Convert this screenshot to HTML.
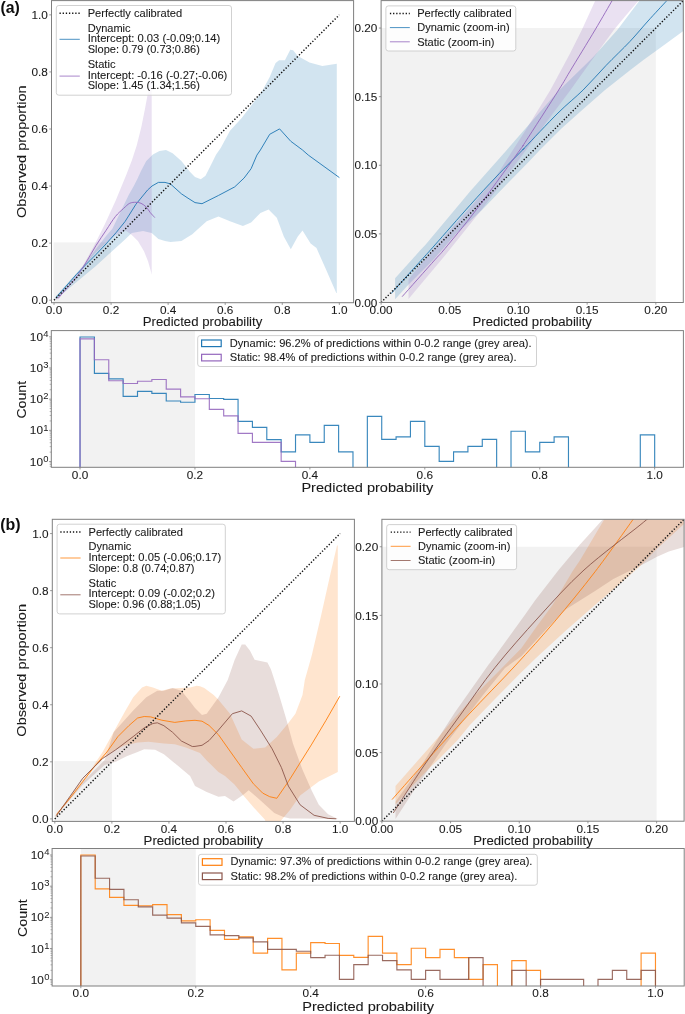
<!DOCTYPE html><html><head><meta charset="utf-8"><style>html,body{margin:0;padding:0;background:#fff;overflow:hidden} svg{display:block;will-change:transform;filter:blur(0.3px)} text{font-family:'Liberation Sans',sans-serif}</style></head><body>
<svg width="685" height="1014" viewBox="0 0 685 1014">
<rect width="685" height="1014" fill="#ffffff"/>
<clipPath id="ca1"><rect x="51.50" y="0.60" width="302.10" height="302.10"/></clipPath>
<clipPath id="ca2"><rect x="381.10" y="0.60" width="302.20" height="301.90"/></clipPath>
<clipPath id="ca3"><rect x="51.30" y="330.60" width="632.10" height="136.70"/></clipPath>
<rect x="53.51" y="242.42" width="57.56" height="60.28" fill="#f2f2f2"/>
<rect x="381.10" y="28.05" width="274.73" height="274.45" fill="#f2f2f2"/>
<rect x="80.03" y="330.60" width="114.93" height="136.70" fill="#f2f2f2"/>
<g clip-path="url(#ca1)">
<polygon points="55.30,299.20 56.00,296.00 85.70,263.00 95.90,249.00 106.10,236.00 112.40,228.80 120.00,213.00 128.70,195.10 133.80,186.00 137.60,178.50 141.00,171.00 146.30,161.00 152.90,154.40 159.50,151.10 166.00,150.00 172.60,153.30 181.40,161.00 190.10,171.90 195.00,176.90 200.80,179.20 205.50,175.70 210.20,166.40 216.00,154.70 220.70,148.00 230.00,130.80 241.70,118.00 253.40,102.80 262.70,89.90 269.70,77.10 275.60,63.10 279.10,60.30 284.90,60.30 290.30,49.80 293.10,50.20 297.80,56.10 309.50,62.60 322.30,65.90 330.50,64.70 336.80,63.80 336.80,293.00 336.30,293.00 325.80,269.10 316.50,248.10 310.60,243.40 302.50,230.60 297.80,236.40 290.80,249.30 283.80,236.40 276.80,217.70 268.60,209.60 260.40,213.10 251.10,222.40 242.90,225.90 230.00,221.20 218.40,216.60 206.70,221.20 195.00,231.80 192.30,234.30 181.40,240.90 170.40,242.00 165.00,241.00 158.40,239.00 151.70,232.90 143.00,230.90 131.80,232.90 125.00,239.50 111.20,252.00 95.90,266.00 75.40,283.00 56.00,299.20" fill="#1f77b4" fill-opacity="0.2" stroke="none"/>
<polygon points="55.50,299.80 56.60,297.80 71.90,281.40 82.80,266.00 93.80,246.30 104.70,224.40 115.70,200.40 126.60,174.10 132.00,160.00 136.70,145.40 141.40,126.70 144.90,109.20 147.50,95.20 149.70,84.00 150.50,79.60 151.70,79.60 151.70,274.80 151.00,271.70 148.10,261.50 144.00,251.30 137.90,241.10 131.80,235.00 125.70,230.50 115.00,235.50 105.00,244.00 95.00,253.00 82.80,268.00 70.00,282.50 58.80,298.90" fill="#9467bd" fill-opacity="0.2" stroke="none"/>
<polyline points="56.00,297.60 76.30,274.60 85.70,264.80 95.90,254.60 106.10,243.90 116.30,232.40 125.00,221.60 135.90,204.30 147.60,190.00 152.00,186.00 158.40,182.40 165.00,182.40 170.40,183.90 181.40,193.80 188.00,198.20 195.00,202.60 202.00,203.70 218.40,195.50 234.70,186.90 244.10,178.00 251.10,168.70 256.90,155.10 260.40,150.00 269.70,134.30 279.60,128.90 290.80,141.30 302.50,150.00 308.30,155.10 339.40,177.60" fill="none" stroke="#1f77b4" stroke-width="1.0" stroke-linejoin="round" stroke-opacity="0.9"/>
<path d="M58.10,298.30 C60.98,294.98 70.80,284.28 75.40,278.40 C80.00,272.52 82.28,268.45 85.70,263.00 C89.12,257.55 92.50,251.15 95.90,245.70 C99.30,240.25 102.85,235.17 106.10,230.30 C109.35,225.43 112.48,220.15 115.40,216.50 C118.32,212.85 121.22,210.60 123.60,208.40 C125.98,206.20 127.65,204.32 129.70,203.30 C131.75,202.28 134.02,202.30 135.90,202.30 C137.78,202.30 139.30,202.53 141.00,203.30 C142.70,204.07 144.57,205.37 146.10,206.90 C147.63,208.43 148.75,210.72 150.20,212.50 C151.65,214.28 154.03,216.75 154.80,217.60" fill="none" stroke="#9467bd" stroke-width="1.0" stroke-opacity="0.9" stroke-linejoin="round"/>
</g>
<g clip-path="url(#ca2)">
<polygon points="395.10,299.30 395.10,278.30 420.00,250.60 425.30,245.00 462.90,200.00 470.00,191.50 505.90,151.00 557.40,92.00 592.80,57.50 617.30,30.00 639.00,1.30 641.00,-1.00 700.00,-1.00 700.00,19.00 685.00,29.80 660.00,48.00 643.40,60.00 630.00,70.30 605.00,90.00 585.00,107.50 562.00,128.00 539.90,150.00 530.00,160.50 506.00,185.00 482.00,210.00 456.00,234.00 433.10,260.00 408.60,284.40" fill="#1f77b4" fill-opacity="0.2" stroke="none"/>
<polygon points="408.50,298.90 408.50,279.20 434.90,247.00 470.00,207.80 496.30,176.30 512.90,150.00 525.00,131.20 550.40,90.00 570.00,53.60 581.80,30.00 596.00,-1.00 639.00,-1.00 638.00,1.30 625.00,16.60 613.80,30.00 590.10,62.40 570.50,90.00 548.00,120.00 526.00,150.00 498.00,188.00 481.40,210.00 445.00,255.50" fill="#9467bd" fill-opacity="0.2" stroke="none"/>
<path d="M391.10,293.60 C396.35,287.78 415.30,266.80 422.60,258.70 C429.90,250.60 427.00,253.92 434.90,245.00 C442.80,236.08 459.82,216.53 470.00,205.20 C480.18,193.87 487.25,186.20 496.00,177.00 C504.75,167.80 517.67,154.93 522.50,150.00 C527.33,145.07 519.08,153.57 525.00,147.40 C530.92,141.23 548.32,122.57 558.00,113.00 C567.68,103.43 575.10,97.92 583.10,90.00 C591.10,82.08 598.18,73.60 606.00,65.50 C613.82,57.40 623.00,48.82 630.00,41.40 C637.00,33.98 641.97,27.68 648.00,21.00 C654.03,14.32 662.95,4.80 666.20,1.30 C669.45,-2.20 667.28,0.22 667.50,0.00" fill="none" stroke="#1f77b4" stroke-width="1.0" stroke-opacity="0.9" stroke-linejoin="round"/>
<path d="M402.10,296.70 C407.57,290.55 427.75,267.83 434.90,259.80 C442.05,251.77 438.13,256.80 445.00,248.50 C451.87,240.20 463.62,226.42 476.10,210.00 C488.58,193.58 511.75,161.25 519.90,150.00 C528.05,138.75 518.53,152.50 525.00,142.50 C531.47,132.50 551.20,101.88 558.70,90.00 C566.20,78.12 563.95,81.20 570.00,71.20 C576.05,61.20 587.92,41.87 595.00,30.00 C602.08,18.13 609.58,5.00 612.50,0.00" fill="none" stroke="#9467bd" stroke-width="1.0" stroke-opacity="0.9" stroke-linejoin="round"/>
</g>
<line x1="54.01" y1="300.19" x2="339.33" y2="14.87" stroke="#111" stroke-width="1.45" stroke-dasharray="1.3 1.85"/>
<line x1="381.10" y1="302.50" x2="683.30" y2="0.60" stroke="#111" stroke-width="1.45" stroke-dasharray="1.3 1.85" clip-path="url(#ca2)"/>
<polyline points="80.03,469.30 80.03,337.00 94.40,337.00 94.40,373.40 108.76,373.40 108.76,378.80 123.13,378.80 123.13,396.30 137.50,396.30 137.50,391.40 151.86,391.40 151.86,393.30 166.23,393.30 166.23,401.00 180.59,401.00 180.59,402.20 194.96,402.20 194.96,394.50 209.32,394.50 209.32,398.50 223.69,398.50 223.69,399.40 238.06,399.40 238.06,421.30 252.42,421.30 252.42,427.40 266.79,427.40 266.79,439.60 281.15,439.60 281.15,451.90 295.52,451.90 295.52,434.90 309.89,434.90 309.89,442.40 324.25,442.40 324.25,425.30 338.62,425.30 338.62,451.90 352.98,451.90 352.98,469.30 367.35,469.30 367.35,416.40 381.72,416.40 381.72,439.30 396.08,439.30 396.08,436.80 410.45,436.80 410.45,421.30 424.81,421.30 424.81,446.30 439.18,446.30 439.18,461.30 453.55,461.30 453.55,451.90 467.91,451.90 467.91,446.30 482.28,446.30 482.28,439.30 496.64,439.30 496.64,469.30 511.01,469.30 511.01,431.20 525.38,431.20 525.38,451.90 539.74,451.90 539.74,442.40 554.11,442.40 554.11,436.80 568.47,436.80 568.47,469.30 582.84,469.30 582.84,469.30 597.20,469.30 597.20,469.30 611.57,469.30 611.57,469.30 625.94,469.30 625.94,469.30 640.30,469.30 640.30,434.90 654.67,434.90 654.67,469.30" fill="none" stroke="#1f77b4" stroke-width="1.15" stroke-opacity="0.88" stroke-linejoin="miter" clip-path="url(#ca3)"/>
<polyline points="80.03,469.30 80.03,338.90 94.40,338.90 94.40,359.70 108.76,359.70 108.76,380.70 123.13,380.70 123.13,383.50 137.50,383.50 137.50,381.20 151.86,381.20 151.86,379.50 166.23,379.50 166.23,389.10 180.59,389.10 180.59,396.80 194.96,396.80 194.96,398.70 209.32,398.70 209.32,409.30 223.69,409.30 223.69,415.80 238.06,415.80 238.06,433.30 252.42,433.30 252.42,442.40 266.79,442.40 266.79,442.40 281.15,442.40 281.15,461.30 295.52,461.30 295.52,469.30 309.89,469.30 309.89,469.30 324.25,469.30 324.25,469.30 338.62,469.30 338.62,469.30 352.98,469.30 352.98,469.30 367.35,469.30 367.35,469.30 381.72,469.30 381.72,469.30 396.08,469.30 396.08,469.30 410.45,469.30 410.45,469.30 424.81,469.30 424.81,469.30 439.18,469.30 439.18,469.30 453.55,469.30 453.55,469.30 467.91,469.30 467.91,469.30 482.28,469.30 482.28,469.30 496.64,469.30 496.64,469.30 511.01,469.30 511.01,469.30 525.38,469.30 525.38,469.30 539.74,469.30 539.74,469.30 554.11,469.30 554.11,469.30 568.47,469.30 568.47,469.30 582.84,469.30 582.84,469.30 597.20,469.30 597.20,469.30 611.57,469.30 611.57,469.30 625.94,469.30 625.94,469.30 640.30,469.30 640.30,469.30 654.67,469.30 654.67,469.30" fill="none" stroke="#9467bd" stroke-width="1.15" stroke-opacity="0.88" stroke-linejoin="miter" clip-path="url(#ca3)"/>
<rect x="51.50" y="0.60" width="302.10" height="302.10" fill="none" stroke="#7f7f7f" stroke-width="1"/>
<rect x="381.10" y="0.60" width="302.20" height="301.90" fill="none" stroke="#7f7f7f" stroke-width="1"/>
<rect x="51.30" y="330.60" width="632.10" height="136.70" fill="none" stroke="#7f7f7f" stroke-width="1"/>
<line x1="54.01" y1="302.70" x2="54.01" y2="304.90" stroke="#7f7f7f" stroke-width="0.8"/>
<text x="54.01" y="314.10" font-size="10.76" text-anchor="middle" fill="#1a1a1a" stroke="#1a1a1a" stroke-width="0.08" textLength="16.38" lengthAdjust="spacingAndGlyphs">0.0</text>
<line x1="111.08" y1="302.70" x2="111.08" y2="304.90" stroke="#7f7f7f" stroke-width="0.8"/>
<text x="111.08" y="314.10" font-size="10.76" text-anchor="middle" fill="#1a1a1a" stroke="#1a1a1a" stroke-width="0.08" textLength="16.38" lengthAdjust="spacingAndGlyphs">0.2</text>
<line x1="168.14" y1="302.70" x2="168.14" y2="304.90" stroke="#7f7f7f" stroke-width="0.8"/>
<text x="168.14" y="314.10" font-size="10.76" text-anchor="middle" fill="#1a1a1a" stroke="#1a1a1a" stroke-width="0.08" textLength="16.38" lengthAdjust="spacingAndGlyphs">0.4</text>
<line x1="225.20" y1="302.70" x2="225.20" y2="304.90" stroke="#7f7f7f" stroke-width="0.8"/>
<text x="225.20" y="314.10" font-size="10.76" text-anchor="middle" fill="#1a1a1a" stroke="#1a1a1a" stroke-width="0.08" textLength="16.38" lengthAdjust="spacingAndGlyphs">0.6</text>
<line x1="282.27" y1="302.70" x2="282.27" y2="304.90" stroke="#7f7f7f" stroke-width="0.8"/>
<text x="282.27" y="314.10" font-size="10.76" text-anchor="middle" fill="#1a1a1a" stroke="#1a1a1a" stroke-width="0.08" textLength="16.38" lengthAdjust="spacingAndGlyphs">0.8</text>
<line x1="339.33" y1="302.70" x2="339.33" y2="304.90" stroke="#7f7f7f" stroke-width="0.8"/>
<text x="339.33" y="314.10" font-size="10.76" text-anchor="middle" fill="#1a1a1a" stroke="#1a1a1a" stroke-width="0.08" textLength="16.38" lengthAdjust="spacingAndGlyphs">1.0</text>
<line x1="49.30" y1="300.19" x2="51.50" y2="300.19" stroke="#7f7f7f" stroke-width="0.8"/>
<text x="47.80" y="304.39" font-size="10.76" text-anchor="end" fill="#1a1a1a" stroke="#1a1a1a" stroke-width="0.08" textLength="16.38" lengthAdjust="spacingAndGlyphs">0.0</text>
<line x1="49.30" y1="243.12" x2="51.50" y2="243.12" stroke="#7f7f7f" stroke-width="0.8"/>
<text x="47.80" y="247.32" font-size="10.76" text-anchor="end" fill="#1a1a1a" stroke="#1a1a1a" stroke-width="0.08" textLength="16.38" lengthAdjust="spacingAndGlyphs">0.2</text>
<line x1="49.30" y1="186.06" x2="51.50" y2="186.06" stroke="#7f7f7f" stroke-width="0.8"/>
<text x="47.80" y="190.26" font-size="10.76" text-anchor="end" fill="#1a1a1a" stroke="#1a1a1a" stroke-width="0.08" textLength="16.38" lengthAdjust="spacingAndGlyphs">0.4</text>
<line x1="49.30" y1="129.00" x2="51.50" y2="129.00" stroke="#7f7f7f" stroke-width="0.8"/>
<text x="47.80" y="133.20" font-size="10.76" text-anchor="end" fill="#1a1a1a" stroke="#1a1a1a" stroke-width="0.08" textLength="16.38" lengthAdjust="spacingAndGlyphs">0.6</text>
<line x1="49.30" y1="71.93" x2="51.50" y2="71.93" stroke="#7f7f7f" stroke-width="0.8"/>
<text x="47.80" y="76.13" font-size="10.76" text-anchor="end" fill="#1a1a1a" stroke="#1a1a1a" stroke-width="0.08" textLength="16.38" lengthAdjust="spacingAndGlyphs">0.8</text>
<line x1="49.30" y1="14.87" x2="51.50" y2="14.87" stroke="#7f7f7f" stroke-width="0.8"/>
<text x="47.80" y="19.07" font-size="10.76" text-anchor="end" fill="#1a1a1a" stroke="#1a1a1a" stroke-width="0.08" textLength="16.38" lengthAdjust="spacingAndGlyphs">1.0</text>
<line x1="381.10" y1="302.50" x2="381.10" y2="304.70" stroke="#7f7f7f" stroke-width="0.8"/>
<text x="381.10" y="313.90" font-size="10.76" text-anchor="middle" fill="#1a1a1a" stroke="#1a1a1a" stroke-width="0.08" textLength="22.93" lengthAdjust="spacingAndGlyphs">0.00</text>
<line x1="449.78" y1="302.50" x2="449.78" y2="304.70" stroke="#7f7f7f" stroke-width="0.8"/>
<text x="449.78" y="313.90" font-size="10.76" text-anchor="middle" fill="#1a1a1a" stroke="#1a1a1a" stroke-width="0.08" textLength="22.93" lengthAdjust="spacingAndGlyphs">0.05</text>
<line x1="518.46" y1="302.50" x2="518.46" y2="304.70" stroke="#7f7f7f" stroke-width="0.8"/>
<text x="518.46" y="313.90" font-size="10.76" text-anchor="middle" fill="#1a1a1a" stroke="#1a1a1a" stroke-width="0.08" textLength="22.93" lengthAdjust="spacingAndGlyphs">0.10</text>
<line x1="587.15" y1="302.50" x2="587.15" y2="304.70" stroke="#7f7f7f" stroke-width="0.8"/>
<text x="587.15" y="313.90" font-size="10.76" text-anchor="middle" fill="#1a1a1a" stroke="#1a1a1a" stroke-width="0.08" textLength="22.93" lengthAdjust="spacingAndGlyphs">0.15</text>
<line x1="655.83" y1="302.50" x2="655.83" y2="304.70" stroke="#7f7f7f" stroke-width="0.8"/>
<text x="655.83" y="313.90" font-size="10.76" text-anchor="middle" fill="#1a1a1a" stroke="#1a1a1a" stroke-width="0.08" textLength="22.93" lengthAdjust="spacingAndGlyphs">0.20</text>
<line x1="378.90" y1="302.50" x2="381.10" y2="302.50" stroke="#7f7f7f" stroke-width="0.8"/>
<text x="377.40" y="306.70" font-size="10.76" text-anchor="end" fill="#1a1a1a" stroke="#1a1a1a" stroke-width="0.08" textLength="22.93" lengthAdjust="spacingAndGlyphs">0.00</text>
<line x1="378.90" y1="233.89" x2="381.10" y2="233.89" stroke="#7f7f7f" stroke-width="0.8"/>
<text x="377.40" y="238.09" font-size="10.76" text-anchor="end" fill="#1a1a1a" stroke="#1a1a1a" stroke-width="0.08" textLength="22.93" lengthAdjust="spacingAndGlyphs">0.05</text>
<line x1="378.90" y1="165.27" x2="381.10" y2="165.27" stroke="#7f7f7f" stroke-width="0.8"/>
<text x="377.40" y="169.47" font-size="10.76" text-anchor="end" fill="#1a1a1a" stroke="#1a1a1a" stroke-width="0.08" textLength="22.93" lengthAdjust="spacingAndGlyphs">0.10</text>
<line x1="378.90" y1="96.66" x2="381.10" y2="96.66" stroke="#7f7f7f" stroke-width="0.8"/>
<text x="377.40" y="100.86" font-size="10.76" text-anchor="end" fill="#1a1a1a" stroke="#1a1a1a" stroke-width="0.08" textLength="22.93" lengthAdjust="spacingAndGlyphs">0.15</text>
<line x1="378.90" y1="28.05" x2="381.10" y2="28.05" stroke="#7f7f7f" stroke-width="0.8"/>
<text x="377.40" y="32.25" font-size="10.76" text-anchor="end" fill="#1a1a1a" stroke="#1a1a1a" stroke-width="0.08" textLength="22.93" lengthAdjust="spacingAndGlyphs">0.20</text>
<line x1="80.03" y1="467.30" x2="80.03" y2="469.50" stroke="#7f7f7f" stroke-width="0.8"/>
<text x="80.03" y="478.70" font-size="10.76" text-anchor="middle" fill="#1a1a1a" stroke="#1a1a1a" stroke-width="0.08" textLength="16.38" lengthAdjust="spacingAndGlyphs">0.0</text>
<line x1="194.96" y1="467.30" x2="194.96" y2="469.50" stroke="#7f7f7f" stroke-width="0.8"/>
<text x="194.96" y="478.70" font-size="10.76" text-anchor="middle" fill="#1a1a1a" stroke="#1a1a1a" stroke-width="0.08" textLength="16.38" lengthAdjust="spacingAndGlyphs">0.2</text>
<line x1="309.89" y1="467.30" x2="309.89" y2="469.50" stroke="#7f7f7f" stroke-width="0.8"/>
<text x="309.89" y="478.70" font-size="10.76" text-anchor="middle" fill="#1a1a1a" stroke="#1a1a1a" stroke-width="0.08" textLength="16.38" lengthAdjust="spacingAndGlyphs">0.4</text>
<line x1="424.81" y1="467.30" x2="424.81" y2="469.50" stroke="#7f7f7f" stroke-width="0.8"/>
<text x="424.81" y="478.70" font-size="10.76" text-anchor="middle" fill="#1a1a1a" stroke="#1a1a1a" stroke-width="0.08" textLength="16.38" lengthAdjust="spacingAndGlyphs">0.6</text>
<line x1="539.74" y1="467.30" x2="539.74" y2="469.50" stroke="#7f7f7f" stroke-width="0.8"/>
<text x="539.74" y="478.70" font-size="10.76" text-anchor="middle" fill="#1a1a1a" stroke="#1a1a1a" stroke-width="0.08" textLength="16.38" lengthAdjust="spacingAndGlyphs">0.8</text>
<line x1="654.67" y1="467.30" x2="654.67" y2="469.50" stroke="#7f7f7f" stroke-width="0.8"/>
<text x="654.67" y="478.70" font-size="10.76" text-anchor="middle" fill="#1a1a1a" stroke="#1a1a1a" stroke-width="0.08" textLength="16.38" lengthAdjust="spacingAndGlyphs">1.0</text>
<line x1="49.70" y1="466.33" x2="51.30" y2="466.33" stroke="#7f7f7f" stroke-width="0.6"/>
<line x1="49.70" y1="464.52" x2="51.30" y2="464.52" stroke="#7f7f7f" stroke-width="0.6"/>
<line x1="49.70" y1="462.93" x2="51.30" y2="462.93" stroke="#7f7f7f" stroke-width="0.6"/>
<line x1="49.70" y1="452.12" x2="51.30" y2="452.12" stroke="#7f7f7f" stroke-width="0.6"/>
<line x1="49.70" y1="446.63" x2="51.30" y2="446.63" stroke="#7f7f7f" stroke-width="0.6"/>
<line x1="49.70" y1="442.73" x2="51.30" y2="442.73" stroke="#7f7f7f" stroke-width="0.6"/>
<line x1="49.70" y1="439.71" x2="51.30" y2="439.71" stroke="#7f7f7f" stroke-width="0.6"/>
<line x1="49.70" y1="437.25" x2="51.30" y2="437.25" stroke="#7f7f7f" stroke-width="0.6"/>
<line x1="49.70" y1="435.16" x2="51.30" y2="435.16" stroke="#7f7f7f" stroke-width="0.6"/>
<line x1="49.70" y1="433.35" x2="51.30" y2="433.35" stroke="#7f7f7f" stroke-width="0.6"/>
<line x1="49.70" y1="431.76" x2="51.30" y2="431.76" stroke="#7f7f7f" stroke-width="0.6"/>
<line x1="49.70" y1="420.95" x2="51.30" y2="420.95" stroke="#7f7f7f" stroke-width="0.6"/>
<line x1="49.70" y1="415.46" x2="51.30" y2="415.46" stroke="#7f7f7f" stroke-width="0.6"/>
<line x1="49.70" y1="411.56" x2="51.30" y2="411.56" stroke="#7f7f7f" stroke-width="0.6"/>
<line x1="49.70" y1="408.54" x2="51.30" y2="408.54" stroke="#7f7f7f" stroke-width="0.6"/>
<line x1="49.70" y1="406.08" x2="51.30" y2="406.08" stroke="#7f7f7f" stroke-width="0.6"/>
<line x1="49.70" y1="403.99" x2="51.30" y2="403.99" stroke="#7f7f7f" stroke-width="0.6"/>
<line x1="49.70" y1="402.18" x2="51.30" y2="402.18" stroke="#7f7f7f" stroke-width="0.6"/>
<line x1="49.70" y1="400.59" x2="51.30" y2="400.59" stroke="#7f7f7f" stroke-width="0.6"/>
<line x1="49.70" y1="389.78" x2="51.30" y2="389.78" stroke="#7f7f7f" stroke-width="0.6"/>
<line x1="49.70" y1="384.29" x2="51.30" y2="384.29" stroke="#7f7f7f" stroke-width="0.6"/>
<line x1="49.70" y1="380.39" x2="51.30" y2="380.39" stroke="#7f7f7f" stroke-width="0.6"/>
<line x1="49.70" y1="377.37" x2="51.30" y2="377.37" stroke="#7f7f7f" stroke-width="0.6"/>
<line x1="49.70" y1="374.91" x2="51.30" y2="374.91" stroke="#7f7f7f" stroke-width="0.6"/>
<line x1="49.70" y1="372.82" x2="51.30" y2="372.82" stroke="#7f7f7f" stroke-width="0.6"/>
<line x1="49.70" y1="371.01" x2="51.30" y2="371.01" stroke="#7f7f7f" stroke-width="0.6"/>
<line x1="49.70" y1="369.42" x2="51.30" y2="369.42" stroke="#7f7f7f" stroke-width="0.6"/>
<line x1="49.70" y1="358.61" x2="51.30" y2="358.61" stroke="#7f7f7f" stroke-width="0.6"/>
<line x1="49.70" y1="353.12" x2="51.30" y2="353.12" stroke="#7f7f7f" stroke-width="0.6"/>
<line x1="49.70" y1="349.22" x2="51.30" y2="349.22" stroke="#7f7f7f" stroke-width="0.6"/>
<line x1="49.70" y1="346.20" x2="51.30" y2="346.20" stroke="#7f7f7f" stroke-width="0.6"/>
<line x1="49.70" y1="343.74" x2="51.30" y2="343.74" stroke="#7f7f7f" stroke-width="0.6"/>
<line x1="49.70" y1="341.65" x2="51.30" y2="341.65" stroke="#7f7f7f" stroke-width="0.6"/>
<line x1="49.70" y1="339.84" x2="51.30" y2="339.84" stroke="#7f7f7f" stroke-width="0.6"/>
<line x1="49.70" y1="338.25" x2="51.30" y2="338.25" stroke="#7f7f7f" stroke-width="0.6"/>
<line x1="49.10" y1="461.50" x2="51.30" y2="461.50" stroke="#7f7f7f" stroke-width="0.8"/>
<text x="48.60" y="461.70" font-size="8.65" text-anchor="end" fill="#1a1a1a" textLength="5.24" lengthAdjust="spacingAndGlyphs">0</text>
<text x="42.96" y="465.60" font-size="10.76" text-anchor="end" fill="#1a1a1a" stroke="#1a1a1a" stroke-width="0.08" textLength="13.11" lengthAdjust="spacingAndGlyphs">10</text>
<line x1="49.10" y1="430.33" x2="51.30" y2="430.33" stroke="#7f7f7f" stroke-width="0.8"/>
<text x="48.60" y="430.53" font-size="8.65" text-anchor="end" fill="#1a1a1a" textLength="5.24" lengthAdjust="spacingAndGlyphs">1</text>
<text x="42.96" y="434.43" font-size="10.76" text-anchor="end" fill="#1a1a1a" stroke="#1a1a1a" stroke-width="0.08" textLength="13.11" lengthAdjust="spacingAndGlyphs">10</text>
<line x1="49.10" y1="399.16" x2="51.30" y2="399.16" stroke="#7f7f7f" stroke-width="0.8"/>
<text x="48.60" y="399.36" font-size="8.65" text-anchor="end" fill="#1a1a1a" textLength="5.24" lengthAdjust="spacingAndGlyphs">2</text>
<text x="42.96" y="403.26" font-size="10.76" text-anchor="end" fill="#1a1a1a" stroke="#1a1a1a" stroke-width="0.08" textLength="13.11" lengthAdjust="spacingAndGlyphs">10</text>
<line x1="49.10" y1="367.99" x2="51.30" y2="367.99" stroke="#7f7f7f" stroke-width="0.8"/>
<text x="48.60" y="368.19" font-size="8.65" text-anchor="end" fill="#1a1a1a" textLength="5.24" lengthAdjust="spacingAndGlyphs">3</text>
<text x="42.96" y="372.09" font-size="10.76" text-anchor="end" fill="#1a1a1a" stroke="#1a1a1a" stroke-width="0.08" textLength="13.11" lengthAdjust="spacingAndGlyphs">10</text>
<line x1="49.10" y1="336.82" x2="51.30" y2="336.82" stroke="#7f7f7f" stroke-width="0.8"/>
<text x="48.60" y="337.02" font-size="8.65" text-anchor="end" fill="#1a1a1a" textLength="5.24" lengthAdjust="spacingAndGlyphs">4</text>
<text x="42.96" y="340.92" font-size="10.76" text-anchor="end" fill="#1a1a1a" stroke="#1a1a1a" stroke-width="0.08" textLength="13.11" lengthAdjust="spacingAndGlyphs">10</text>
<text x="202.55" y="326.40" font-size="12.07" text-anchor="middle" fill="#1a1a1a" stroke="#1a1a1a" stroke-width="0.08" textLength="119.52" lengthAdjust="spacingAndGlyphs">Predicted probability</text>
<text x="532.20" y="326.40" font-size="12.07" text-anchor="middle" fill="#1a1a1a" stroke="#1a1a1a" stroke-width="0.08" textLength="119.52" lengthAdjust="spacingAndGlyphs">Predicted probability</text>
<text x="367.35" y="492.30" font-size="13.31" text-anchor="middle" fill="#1a1a1a" stroke="#1a1a1a" stroke-width="0.08" textLength="131.83" lengthAdjust="spacingAndGlyphs">Predicted probability</text>
<text x="25.60" y="151.65" font-size="13.41" text-anchor="middle" fill="#1a1a1a" stroke="#1a1a1a" stroke-width="0.08" textLength="132.64" lengthAdjust="spacingAndGlyphs" transform="rotate(-90 25.60 151.65)">Observed proportion</text>
<text x="26.20" y="399.75" font-size="13.27" text-anchor="middle" fill="#1a1a1a" stroke="#1a1a1a" stroke-width="0.08" textLength="37.72" lengthAdjust="spacingAndGlyphs" transform="rotate(-90 26.20 399.75)">Count</text>
<rect x="56.30" y="5.50" width="175.20" height="89.70" rx="2.5" ry="2.5" fill="#ffffff" fill-opacity="0.8" stroke="#cccccc" stroke-width="0.9"/>
<line x1="59.50" y1="13.30" x2="79.80" y2="13.30" stroke="#111" stroke-width="1.45" stroke-dasharray="1.3 1.85"/>
<text x="87.70" y="17.20" font-size="10.16" text-anchor="start" fill="#1a1a1a" stroke="#1a1a1a" stroke-width="0.08" textLength="94.38" lengthAdjust="spacingAndGlyphs">Perfectly calibrated</text>
<line x1="59.50" y1="39.30" x2="79.80" y2="39.30" stroke="#1f77b4" stroke-width="1" stroke-opacity="0.8"/>
<text x="87.70" y="31.70" font-size="10.16" text-anchor="start" fill="#1a1a1a" stroke="#1a1a1a" stroke-width="0.08" textLength="42.87" lengthAdjust="spacingAndGlyphs">Dynamic</text>
<text x="87.70" y="42.40" font-size="10.16" text-anchor="start" fill="#1a1a1a" stroke="#1a1a1a" stroke-width="0.08" textLength="132.65" lengthAdjust="spacingAndGlyphs">Intercept: 0.03 (-0.09;0.14)</text>
<text x="87.70" y="53.10" font-size="10.16" text-anchor="start" fill="#1a1a1a" stroke="#1a1a1a" stroke-width="0.08" textLength="112.21" lengthAdjust="spacingAndGlyphs">Slope: 0.79 (0.73;0.86)</text>
<line x1="59.50" y1="76.10" x2="79.80" y2="76.10" stroke="#9467bd" stroke-width="1" stroke-opacity="0.8"/>
<text x="87.70" y="67.90" font-size="10.16" text-anchor="start" fill="#1a1a1a" stroke="#1a1a1a" stroke-width="0.08" textLength="27.79" lengthAdjust="spacingAndGlyphs">Static</text>
<text x="87.70" y="78.60" font-size="10.16" text-anchor="start" fill="#1a1a1a" stroke="#1a1a1a" stroke-width="0.08" textLength="139.67" lengthAdjust="spacingAndGlyphs">Intercept: -0.16 (-0.27;-0.06)</text>
<text x="87.70" y="89.30" font-size="10.16" text-anchor="start" fill="#1a1a1a" stroke="#1a1a1a" stroke-width="0.08" textLength="112.21" lengthAdjust="spacingAndGlyphs">Slope: 1.45 (1.34;1.56)</text>
<rect x="385.90" y="5.90" width="129.90" height="45.10" rx="2.5" ry="2.5" fill="#ffffff" fill-opacity="0.8" stroke="#cccccc" stroke-width="0.9"/>
<line x1="389.90" y1="13.40" x2="409.80" y2="13.40" stroke="#111" stroke-width="1.45" stroke-dasharray="1.3 1.85"/>
<text x="417.20" y="17.20" font-size="10.16" text-anchor="start" fill="#1a1a1a" stroke="#1a1a1a" stroke-width="0.08" textLength="94.38" lengthAdjust="spacingAndGlyphs">Perfectly calibrated</text>
<line x1="389.90" y1="27.60" x2="409.80" y2="27.60" stroke="#1f77b4" stroke-width="1" stroke-opacity="0.8"/>
<text x="417.20" y="31.40" font-size="10.16" text-anchor="start" fill="#1a1a1a" stroke="#1a1a1a" stroke-width="0.08" textLength="92.37" lengthAdjust="spacingAndGlyphs">Dynamic (zoom-in)</text>
<line x1="389.90" y1="41.80" x2="409.80" y2="41.80" stroke="#9467bd" stroke-width="1" stroke-opacity="0.8"/>
<text x="417.20" y="45.60" font-size="10.16" text-anchor="start" fill="#1a1a1a" stroke="#1a1a1a" stroke-width="0.08" textLength="77.30" lengthAdjust="spacingAndGlyphs">Static (zoom-in)</text>
<rect x="197.70" y="335.60" width="338.80" height="30.90" rx="2.5" ry="2.5" fill="#ffffff" fill-opacity="0.8" stroke="#cccccc" stroke-width="0.9"/>
<rect x="201.60" y="340.00" width="19.6" height="6.6" fill="none" stroke="#1f77b4" stroke-width="1.2"/>
<rect x="201.60" y="354.30" width="19.6" height="6.6" fill="none" stroke="#9467bd" stroke-width="1.2"/>
<text x="229.80" y="346.60" font-size="10.16" text-anchor="start" fill="#1a1a1a" stroke="#1a1a1a" stroke-width="0.08" textLength="301.86" lengthAdjust="spacingAndGlyphs">Dynamic: 96.2% of predictions within 0-0.2 range (grey area).</text>
<text x="229.80" y="360.90" font-size="10.16" text-anchor="start" fill="#1a1a1a" stroke="#1a1a1a" stroke-width="0.08" textLength="286.79" lengthAdjust="spacingAndGlyphs">Static: 98.4% of predictions within 0-0.2 range (grey area).</text>
<text x="0.4" y="12.7" font-size="17.4" font-weight="bold" fill="#0d0d0d" textLength="19.4" lengthAdjust="spacingAndGlyphs">(a)</text>
<clipPath id="cb1"><rect x="52.30" y="519.30" width="302.10" height="302.10"/></clipPath>
<clipPath id="cb2"><rect x="381.90" y="519.30" width="302.20" height="301.90"/></clipPath>
<clipPath id="cb3"><rect x="52.10" y="848.50" width="632.10" height="137.50"/></clipPath>
<rect x="54.31" y="761.12" width="57.56" height="60.28" fill="#f2f2f2"/>
<rect x="381.90" y="546.75" width="274.73" height="274.45" fill="#f2f2f2"/>
<rect x="80.83" y="848.50" width="114.93" height="137.50" fill="#f2f2f2"/>
<g clip-path="url(#cb1)">
<polygon points="55.50,815.50 71.90,793.60 89.40,771.70 102.60,752.00 113.50,732.30 124.40,712.60 133.20,697.20 142.00,687.40 146.30,685.80 152.90,687.40 161.70,690.70 170.40,688.50 181.40,688.00 190.10,687.40 196.70,685.80 200.00,686.30 204.30,688.00 213.70,695.00 218.40,699.70 230.00,713.70 241.70,739.40 253.40,748.80 265.10,747.60 276.80,737.10 288.40,723.10 295.40,713.70 302.50,695.00 304.80,679.90 311.80,655.20 321.10,615.40 330.50,573.40 337.00,545.40 337.80,545.40 337.80,772.10 318.80,781.50 300.10,795.50 290.00,810.10 281.90,819.60 276.00,828.00 268.00,828.00 264.80,819.60 253.50,807.30 243.00,795.00 234.50,784.50 225.00,776.00 218.40,772.10 206.70,760.40 200.00,753.00 185.80,747.60 174.80,744.30 163.90,743.50 148.50,741.80 137.60,742.50 124.40,745.50 111.30,752.00 104.00,758.00 93.80,768.00 76.30,790.20 55.50,817.70" fill="#ff7f0e" fill-opacity="0.2" stroke="none"/>
<polygon points="55.50,815.50 82.80,782.00 104.70,760.00 113.70,732.30 133.20,710.40 146.30,697.20 157.30,690.70 163.90,690.70 172.60,688.00 181.40,690.70 190.10,701.60 195.00,707.90 202.00,714.90 206.70,713.70 218.40,697.40 227.70,679.90 234.70,659.80 241.70,644.60 245.20,644.60 249.90,650.50 254.60,659.80 260.40,661.00 267.40,662.60 270.90,669.20 274.40,679.90 279.10,695.00 286.10,718.40 293.10,744.10 302.50,769.80 311.80,790.80 318.80,804.80 328.10,814.20 337.50,818.80 337.50,819.00 300.00,818.60 290.00,818.40 282.90,816.70 274.30,813.00 260.00,800.00 248.70,790.20 243.00,795.00 233.50,801.60 225.00,795.90 218.40,796.70 206.70,792.00 195.00,786.10 190.10,776.00 177.00,765.10 163.90,754.20 155.10,749.80 144.20,749.30 137.60,752.00 126.60,756.30 115.70,761.80 104.70,765.10 82.80,784.80 55.50,816.60" fill="#8c564b" fill-opacity="0.2" stroke="none"/>
<polyline points="56.60,814.40 71.90,795.80 93.80,767.30 106.90,752.00 117.90,736.60 128.80,725.70 137.60,718.00 144.20,716.50 150.70,716.90 161.70,720.20 174.80,722.40 185.80,720.90 195.00,720.30 202.00,721.20 209.00,725.40 218.40,734.70 230.00,751.10 241.70,767.50 253.40,783.80 262.70,793.10 269.70,796.70 276.80,798.30 288.40,781.50 300.10,762.80 311.80,744.10 325.80,720.70 339.80,696.20" fill="none" stroke="#ff7f0e" stroke-width="1.0" stroke-linejoin="round" stroke-opacity="0.9"/>
<polyline points="56.60,815.50 82.80,778.20 102.60,758.50 115.70,749.80 133.20,736.60 144.20,727.90 152.90,723.50 157.30,722.80 163.90,725.70 172.60,732.30 181.40,741.00 192.30,746.50 195.00,746.40 202.00,745.30 209.00,740.60 218.40,730.10 232.40,713.70 241.70,710.90 251.10,716.10 260.40,730.10 272.10,748.80 281.40,767.50 288.40,786.10 300.10,804.80 314.10,815.30 328.10,818.40 336.30,818.80" fill="none" stroke="#8c564b" stroke-width="1.0" stroke-linejoin="round" stroke-opacity="0.9"/>
</g>
<g clip-path="url(#cb2)">
<polygon points="395.50,804.40 395.50,786.00 413.90,765.00 434.90,741.30 455.00,717.50 478.00,692.00 498.00,672.00 521.30,648.30 537.00,626.00 552.50,605.00 572.70,571.00 580.00,560.20 592.00,540.00 604.50,519.00 607.00,515.00 700.00,505.00 700.00,510.00 684.00,524.00 657.00,548.80 640.00,566.30 625.50,579.00 595.00,605.00 566.50,630.00 555.00,640.40 536.00,658.00 518.60,675.00 494.00,700.00 469.90,725.00 457.70,740.00 440.00,758.00 430.50,767.00 411.30,787.00" fill="#ff7f0e" fill-opacity="0.2" stroke="none"/>
<polygon points="395.50,818.90 395.50,801.80 421.80,765.00 441.90,732.50 455.00,712.30 488.30,665.00 495.00,656.20 524.80,615.00 535.00,600.60 558.60,570.00 580.00,544.40 603.20,519.00 607.00,515.00 700.00,505.00 700.00,545.00 684.10,547.00 668.80,551.40 657.00,556.70 642.50,564.50 613.30,579.00 595.00,591.00 565.60,609.40 545.50,630.00 521.30,656.20 505.00,668.00 483.00,695.00 460.30,725.00 445.00,745.00 431.40,765.00 413.00,792.00" fill="#8c564b" fill-opacity="0.2" stroke="none"/>
<path d="M392.00,799.60 C397.12,793.83 410.00,779.10 422.70,765.00 C435.40,750.90 452.82,731.52 468.20,715.00 C483.58,698.48 500.53,681.55 515.00,665.90 C529.47,650.25 541.67,636.78 555.00,621.10 C568.33,605.42 581.93,588.82 595.00,571.80 C608.07,554.78 626.57,528.47 633.40,519.00 C640.23,509.53 635.57,515.67 636.00,515.00" fill="none" stroke="#ff7f0e" stroke-width="1.0" stroke-opacity="0.9" stroke-linejoin="round"/>
<path d="M393.30,813.00 C398.48,805.00 413.23,781.33 424.40,765.00 C435.57,748.67 448.53,731.25 460.30,715.00 C472.07,698.75 481.92,683.83 495.00,667.50 C508.08,651.17 523.97,633.25 538.80,617.00 C553.63,600.75 567.13,585.32 584.00,570.00 C600.87,554.68 628.67,534.27 640.00,525.10 C651.33,515.93 650.00,516.68 652.00,515.00" fill="none" stroke="#8c564b" stroke-width="1.0" stroke-opacity="0.9" stroke-linejoin="round"/>
</g>
<line x1="54.81" y1="818.89" x2="340.13" y2="533.57" stroke="#111" stroke-width="1.45" stroke-dasharray="1.3 1.85"/>
<line x1="381.90" y1="821.20" x2="684.10" y2="519.30" stroke="#111" stroke-width="1.45" stroke-dasharray="1.3 1.85" clip-path="url(#cb2)"/>
<polyline points="80.83,988.00 80.83,855.00 95.20,855.00 95.20,888.90 109.56,888.90 109.56,897.30 123.93,897.30 123.93,905.30 138.30,905.30 138.30,905.70 152.66,905.70 152.66,904.60 167.03,904.60 167.03,914.60 181.39,914.60 181.39,920.90 195.76,920.90 195.76,919.70 210.12,919.70 210.12,930.30 224.49,930.30 224.49,939.30 238.86,939.30 238.86,936.80 253.22,936.80 253.22,953.10 267.59,953.10 267.59,938.40 281.95,938.40 281.95,969.90 296.32,969.90 296.32,953.10 310.69,953.10 310.69,942.60 325.05,942.60 325.05,943.50 339.42,943.50 339.42,955.40 353.78,955.40 353.78,957.30 368.15,957.30 368.15,936.30 382.52,936.30 382.52,953.10 396.88,953.10 396.88,964.60 411.25,964.60 411.25,948.20 425.61,948.20 425.61,957.60 439.98,957.60 439.98,949.40 454.35,949.40 454.35,957.60 468.71,957.60 468.71,979.30 483.08,979.30 483.08,964.60 497.44,964.60 497.44,988.00 511.81,988.00 511.81,960.60 526.17,960.60 526.17,970.40 540.54,970.40 540.54,988.00 554.91,988.00 554.91,988.00 569.27,988.00 569.27,988.00 583.64,988.00 583.64,988.00 598.00,988.00 598.00,988.00 612.37,988.00 612.37,988.00 626.74,988.00 626.74,988.00 641.10,988.00 641.10,953.10 655.47,953.10 655.47,988.00" fill="none" stroke="#ff7f0e" stroke-width="1.15" stroke-opacity="0.88" stroke-linejoin="miter" clip-path="url(#cb3)"/>
<polyline points="80.83,988.00 80.83,856.00 95.20,856.00 95.20,878.20 109.56,878.20 109.56,889.40 123.93,889.40 123.93,899.70 138.30,899.70 138.30,906.90 152.66,906.90 152.66,915.10 167.03,915.10 167.03,918.10 181.39,918.10 181.39,922.80 195.76,922.80 195.76,926.30 210.12,926.30 210.12,934.90 224.49,934.90 224.49,935.60 238.86,935.60 238.86,937.90 253.22,937.90 253.22,941.90 267.59,941.90 267.59,949.40 281.95,949.40 281.95,949.40 296.32,949.40 296.32,951.20 310.69,951.20 310.69,957.60 325.05,957.60 325.05,955.20 339.42,955.20 339.42,979.30 353.78,979.30 353.78,964.60 368.15,964.60 368.15,955.20 382.52,955.20 382.52,960.60 396.88,960.60 396.88,969.90 411.25,969.90 411.25,979.30 425.61,979.30 425.61,970.40 439.98,970.40 439.98,979.30 454.35,979.30 454.35,979.30 468.71,979.30 468.71,957.60 483.08,957.60 483.08,988.00 497.44,988.00 497.44,988.00 511.81,988.00 511.81,970.40 526.17,970.40 526.17,988.00 540.54,988.00 540.54,979.40 554.91,979.40 554.91,979.40 569.27,979.40 569.27,979.40 583.64,979.40 583.64,988.00 598.00,988.00 598.00,979.40 612.37,979.40 612.37,970.40 626.74,970.40 626.74,979.40 641.10,979.40 641.10,970.40 655.47,970.40 655.47,988.00" fill="none" stroke="#8c564b" stroke-width="1.15" stroke-opacity="0.88" stroke-linejoin="miter" clip-path="url(#cb3)"/>
<rect x="52.30" y="519.30" width="302.10" height="302.10" fill="none" stroke="#7f7f7f" stroke-width="1"/>
<rect x="381.90" y="519.30" width="302.20" height="301.90" fill="none" stroke="#7f7f7f" stroke-width="1"/>
<rect x="52.10" y="848.50" width="632.10" height="137.50" fill="none" stroke="#7f7f7f" stroke-width="1"/>
<line x1="54.81" y1="821.40" x2="54.81" y2="823.60" stroke="#7f7f7f" stroke-width="0.8"/>
<text x="54.81" y="832.80" font-size="10.76" text-anchor="middle" fill="#1a1a1a" stroke="#1a1a1a" stroke-width="0.08" textLength="16.38" lengthAdjust="spacingAndGlyphs">0.0</text>
<line x1="111.88" y1="821.40" x2="111.88" y2="823.60" stroke="#7f7f7f" stroke-width="0.8"/>
<text x="111.88" y="832.80" font-size="10.76" text-anchor="middle" fill="#1a1a1a" stroke="#1a1a1a" stroke-width="0.08" textLength="16.38" lengthAdjust="spacingAndGlyphs">0.2</text>
<line x1="168.94" y1="821.40" x2="168.94" y2="823.60" stroke="#7f7f7f" stroke-width="0.8"/>
<text x="168.94" y="832.80" font-size="10.76" text-anchor="middle" fill="#1a1a1a" stroke="#1a1a1a" stroke-width="0.08" textLength="16.38" lengthAdjust="spacingAndGlyphs">0.4</text>
<line x1="226.00" y1="821.40" x2="226.00" y2="823.60" stroke="#7f7f7f" stroke-width="0.8"/>
<text x="226.00" y="832.80" font-size="10.76" text-anchor="middle" fill="#1a1a1a" stroke="#1a1a1a" stroke-width="0.08" textLength="16.38" lengthAdjust="spacingAndGlyphs">0.6</text>
<line x1="283.07" y1="821.40" x2="283.07" y2="823.60" stroke="#7f7f7f" stroke-width="0.8"/>
<text x="283.07" y="832.80" font-size="10.76" text-anchor="middle" fill="#1a1a1a" stroke="#1a1a1a" stroke-width="0.08" textLength="16.38" lengthAdjust="spacingAndGlyphs">0.8</text>
<line x1="340.13" y1="821.40" x2="340.13" y2="823.60" stroke="#7f7f7f" stroke-width="0.8"/>
<text x="340.13" y="832.80" font-size="10.76" text-anchor="middle" fill="#1a1a1a" stroke="#1a1a1a" stroke-width="0.08" textLength="16.38" lengthAdjust="spacingAndGlyphs">1.0</text>
<line x1="50.10" y1="818.89" x2="52.30" y2="818.89" stroke="#7f7f7f" stroke-width="0.8"/>
<text x="48.60" y="823.09" font-size="10.76" text-anchor="end" fill="#1a1a1a" stroke="#1a1a1a" stroke-width="0.08" textLength="16.38" lengthAdjust="spacingAndGlyphs">0.0</text>
<line x1="50.10" y1="761.82" x2="52.30" y2="761.82" stroke="#7f7f7f" stroke-width="0.8"/>
<text x="48.60" y="766.02" font-size="10.76" text-anchor="end" fill="#1a1a1a" stroke="#1a1a1a" stroke-width="0.08" textLength="16.38" lengthAdjust="spacingAndGlyphs">0.2</text>
<line x1="50.10" y1="704.76" x2="52.30" y2="704.76" stroke="#7f7f7f" stroke-width="0.8"/>
<text x="48.60" y="708.96" font-size="10.76" text-anchor="end" fill="#1a1a1a" stroke="#1a1a1a" stroke-width="0.08" textLength="16.38" lengthAdjust="spacingAndGlyphs">0.4</text>
<line x1="50.10" y1="647.70" x2="52.30" y2="647.70" stroke="#7f7f7f" stroke-width="0.8"/>
<text x="48.60" y="651.90" font-size="10.76" text-anchor="end" fill="#1a1a1a" stroke="#1a1a1a" stroke-width="0.08" textLength="16.38" lengthAdjust="spacingAndGlyphs">0.6</text>
<line x1="50.10" y1="590.63" x2="52.30" y2="590.63" stroke="#7f7f7f" stroke-width="0.8"/>
<text x="48.60" y="594.83" font-size="10.76" text-anchor="end" fill="#1a1a1a" stroke="#1a1a1a" stroke-width="0.08" textLength="16.38" lengthAdjust="spacingAndGlyphs">0.8</text>
<line x1="50.10" y1="533.57" x2="52.30" y2="533.57" stroke="#7f7f7f" stroke-width="0.8"/>
<text x="48.60" y="537.77" font-size="10.76" text-anchor="end" fill="#1a1a1a" stroke="#1a1a1a" stroke-width="0.08" textLength="16.38" lengthAdjust="spacingAndGlyphs">1.0</text>
<line x1="381.90" y1="821.20" x2="381.90" y2="823.40" stroke="#7f7f7f" stroke-width="0.8"/>
<text x="381.90" y="832.60" font-size="10.76" text-anchor="middle" fill="#1a1a1a" stroke="#1a1a1a" stroke-width="0.08" textLength="22.93" lengthAdjust="spacingAndGlyphs">0.00</text>
<line x1="450.58" y1="821.20" x2="450.58" y2="823.40" stroke="#7f7f7f" stroke-width="0.8"/>
<text x="450.58" y="832.60" font-size="10.76" text-anchor="middle" fill="#1a1a1a" stroke="#1a1a1a" stroke-width="0.08" textLength="22.93" lengthAdjust="spacingAndGlyphs">0.05</text>
<line x1="519.26" y1="821.20" x2="519.26" y2="823.40" stroke="#7f7f7f" stroke-width="0.8"/>
<text x="519.26" y="832.60" font-size="10.76" text-anchor="middle" fill="#1a1a1a" stroke="#1a1a1a" stroke-width="0.08" textLength="22.93" lengthAdjust="spacingAndGlyphs">0.10</text>
<line x1="587.95" y1="821.20" x2="587.95" y2="823.40" stroke="#7f7f7f" stroke-width="0.8"/>
<text x="587.95" y="832.60" font-size="10.76" text-anchor="middle" fill="#1a1a1a" stroke="#1a1a1a" stroke-width="0.08" textLength="22.93" lengthAdjust="spacingAndGlyphs">0.15</text>
<line x1="656.63" y1="821.20" x2="656.63" y2="823.40" stroke="#7f7f7f" stroke-width="0.8"/>
<text x="656.63" y="832.60" font-size="10.76" text-anchor="middle" fill="#1a1a1a" stroke="#1a1a1a" stroke-width="0.08" textLength="22.93" lengthAdjust="spacingAndGlyphs">0.20</text>
<line x1="379.70" y1="821.20" x2="381.90" y2="821.20" stroke="#7f7f7f" stroke-width="0.8"/>
<text x="378.20" y="825.40" font-size="10.76" text-anchor="end" fill="#1a1a1a" stroke="#1a1a1a" stroke-width="0.08" textLength="22.93" lengthAdjust="spacingAndGlyphs">0.00</text>
<line x1="379.70" y1="752.59" x2="381.90" y2="752.59" stroke="#7f7f7f" stroke-width="0.8"/>
<text x="378.20" y="756.79" font-size="10.76" text-anchor="end" fill="#1a1a1a" stroke="#1a1a1a" stroke-width="0.08" textLength="22.93" lengthAdjust="spacingAndGlyphs">0.05</text>
<line x1="379.70" y1="683.97" x2="381.90" y2="683.97" stroke="#7f7f7f" stroke-width="0.8"/>
<text x="378.20" y="688.17" font-size="10.76" text-anchor="end" fill="#1a1a1a" stroke="#1a1a1a" stroke-width="0.08" textLength="22.93" lengthAdjust="spacingAndGlyphs">0.10</text>
<line x1="379.70" y1="615.36" x2="381.90" y2="615.36" stroke="#7f7f7f" stroke-width="0.8"/>
<text x="378.20" y="619.56" font-size="10.76" text-anchor="end" fill="#1a1a1a" stroke="#1a1a1a" stroke-width="0.08" textLength="22.93" lengthAdjust="spacingAndGlyphs">0.15</text>
<line x1="379.70" y1="546.75" x2="381.90" y2="546.75" stroke="#7f7f7f" stroke-width="0.8"/>
<text x="378.20" y="550.95" font-size="10.76" text-anchor="end" fill="#1a1a1a" stroke="#1a1a1a" stroke-width="0.08" textLength="22.93" lengthAdjust="spacingAndGlyphs">0.20</text>
<line x1="80.83" y1="986.00" x2="80.83" y2="988.20" stroke="#7f7f7f" stroke-width="0.8"/>
<text x="80.83" y="997.40" font-size="10.76" text-anchor="middle" fill="#1a1a1a" stroke="#1a1a1a" stroke-width="0.08" textLength="16.38" lengthAdjust="spacingAndGlyphs">0.0</text>
<line x1="195.76" y1="986.00" x2="195.76" y2="988.20" stroke="#7f7f7f" stroke-width="0.8"/>
<text x="195.76" y="997.40" font-size="10.76" text-anchor="middle" fill="#1a1a1a" stroke="#1a1a1a" stroke-width="0.08" textLength="16.38" lengthAdjust="spacingAndGlyphs">0.2</text>
<line x1="310.69" y1="986.00" x2="310.69" y2="988.20" stroke="#7f7f7f" stroke-width="0.8"/>
<text x="310.69" y="997.40" font-size="10.76" text-anchor="middle" fill="#1a1a1a" stroke="#1a1a1a" stroke-width="0.08" textLength="16.38" lengthAdjust="spacingAndGlyphs">0.4</text>
<line x1="425.61" y1="986.00" x2="425.61" y2="988.20" stroke="#7f7f7f" stroke-width="0.8"/>
<text x="425.61" y="997.40" font-size="10.76" text-anchor="middle" fill="#1a1a1a" stroke="#1a1a1a" stroke-width="0.08" textLength="16.38" lengthAdjust="spacingAndGlyphs">0.6</text>
<line x1="540.54" y1="986.00" x2="540.54" y2="988.20" stroke="#7f7f7f" stroke-width="0.8"/>
<text x="540.54" y="997.40" font-size="10.76" text-anchor="middle" fill="#1a1a1a" stroke="#1a1a1a" stroke-width="0.08" textLength="16.38" lengthAdjust="spacingAndGlyphs">0.8</text>
<line x1="655.47" y1="986.00" x2="655.47" y2="988.20" stroke="#7f7f7f" stroke-width="0.8"/>
<text x="655.47" y="997.40" font-size="10.76" text-anchor="middle" fill="#1a1a1a" stroke="#1a1a1a" stroke-width="0.08" textLength="16.38" lengthAdjust="spacingAndGlyphs">1.0</text>
<line x1="50.50" y1="984.53" x2="52.10" y2="984.53" stroke="#7f7f7f" stroke-width="0.6"/>
<line x1="50.50" y1="982.72" x2="52.10" y2="982.72" stroke="#7f7f7f" stroke-width="0.6"/>
<line x1="50.50" y1="981.13" x2="52.10" y2="981.13" stroke="#7f7f7f" stroke-width="0.6"/>
<line x1="50.50" y1="970.32" x2="52.10" y2="970.32" stroke="#7f7f7f" stroke-width="0.6"/>
<line x1="50.50" y1="964.83" x2="52.10" y2="964.83" stroke="#7f7f7f" stroke-width="0.6"/>
<line x1="50.50" y1="960.93" x2="52.10" y2="960.93" stroke="#7f7f7f" stroke-width="0.6"/>
<line x1="50.50" y1="957.91" x2="52.10" y2="957.91" stroke="#7f7f7f" stroke-width="0.6"/>
<line x1="50.50" y1="955.45" x2="52.10" y2="955.45" stroke="#7f7f7f" stroke-width="0.6"/>
<line x1="50.50" y1="953.36" x2="52.10" y2="953.36" stroke="#7f7f7f" stroke-width="0.6"/>
<line x1="50.50" y1="951.55" x2="52.10" y2="951.55" stroke="#7f7f7f" stroke-width="0.6"/>
<line x1="50.50" y1="949.96" x2="52.10" y2="949.96" stroke="#7f7f7f" stroke-width="0.6"/>
<line x1="50.50" y1="939.15" x2="52.10" y2="939.15" stroke="#7f7f7f" stroke-width="0.6"/>
<line x1="50.50" y1="933.66" x2="52.10" y2="933.66" stroke="#7f7f7f" stroke-width="0.6"/>
<line x1="50.50" y1="929.76" x2="52.10" y2="929.76" stroke="#7f7f7f" stroke-width="0.6"/>
<line x1="50.50" y1="926.74" x2="52.10" y2="926.74" stroke="#7f7f7f" stroke-width="0.6"/>
<line x1="50.50" y1="924.28" x2="52.10" y2="924.28" stroke="#7f7f7f" stroke-width="0.6"/>
<line x1="50.50" y1="922.19" x2="52.10" y2="922.19" stroke="#7f7f7f" stroke-width="0.6"/>
<line x1="50.50" y1="920.38" x2="52.10" y2="920.38" stroke="#7f7f7f" stroke-width="0.6"/>
<line x1="50.50" y1="918.79" x2="52.10" y2="918.79" stroke="#7f7f7f" stroke-width="0.6"/>
<line x1="50.50" y1="907.98" x2="52.10" y2="907.98" stroke="#7f7f7f" stroke-width="0.6"/>
<line x1="50.50" y1="902.49" x2="52.10" y2="902.49" stroke="#7f7f7f" stroke-width="0.6"/>
<line x1="50.50" y1="898.59" x2="52.10" y2="898.59" stroke="#7f7f7f" stroke-width="0.6"/>
<line x1="50.50" y1="895.57" x2="52.10" y2="895.57" stroke="#7f7f7f" stroke-width="0.6"/>
<line x1="50.50" y1="893.11" x2="52.10" y2="893.11" stroke="#7f7f7f" stroke-width="0.6"/>
<line x1="50.50" y1="891.02" x2="52.10" y2="891.02" stroke="#7f7f7f" stroke-width="0.6"/>
<line x1="50.50" y1="889.21" x2="52.10" y2="889.21" stroke="#7f7f7f" stroke-width="0.6"/>
<line x1="50.50" y1="887.62" x2="52.10" y2="887.62" stroke="#7f7f7f" stroke-width="0.6"/>
<line x1="50.50" y1="876.81" x2="52.10" y2="876.81" stroke="#7f7f7f" stroke-width="0.6"/>
<line x1="50.50" y1="871.32" x2="52.10" y2="871.32" stroke="#7f7f7f" stroke-width="0.6"/>
<line x1="50.50" y1="867.42" x2="52.10" y2="867.42" stroke="#7f7f7f" stroke-width="0.6"/>
<line x1="50.50" y1="864.40" x2="52.10" y2="864.40" stroke="#7f7f7f" stroke-width="0.6"/>
<line x1="50.50" y1="861.94" x2="52.10" y2="861.94" stroke="#7f7f7f" stroke-width="0.6"/>
<line x1="50.50" y1="859.85" x2="52.10" y2="859.85" stroke="#7f7f7f" stroke-width="0.6"/>
<line x1="50.50" y1="858.04" x2="52.10" y2="858.04" stroke="#7f7f7f" stroke-width="0.6"/>
<line x1="50.50" y1="856.45" x2="52.10" y2="856.45" stroke="#7f7f7f" stroke-width="0.6"/>
<line x1="49.90" y1="979.70" x2="52.10" y2="979.70" stroke="#7f7f7f" stroke-width="0.8"/>
<text x="49.40" y="979.90" font-size="8.65" text-anchor="end" fill="#1a1a1a" textLength="5.24" lengthAdjust="spacingAndGlyphs">0</text>
<text x="43.76" y="983.80" font-size="10.76" text-anchor="end" fill="#1a1a1a" stroke="#1a1a1a" stroke-width="0.08" textLength="13.11" lengthAdjust="spacingAndGlyphs">10</text>
<line x1="49.90" y1="948.53" x2="52.10" y2="948.53" stroke="#7f7f7f" stroke-width="0.8"/>
<text x="49.40" y="948.73" font-size="8.65" text-anchor="end" fill="#1a1a1a" textLength="5.24" lengthAdjust="spacingAndGlyphs">1</text>
<text x="43.76" y="952.63" font-size="10.76" text-anchor="end" fill="#1a1a1a" stroke="#1a1a1a" stroke-width="0.08" textLength="13.11" lengthAdjust="spacingAndGlyphs">10</text>
<line x1="49.90" y1="917.36" x2="52.10" y2="917.36" stroke="#7f7f7f" stroke-width="0.8"/>
<text x="49.40" y="917.56" font-size="8.65" text-anchor="end" fill="#1a1a1a" textLength="5.24" lengthAdjust="spacingAndGlyphs">2</text>
<text x="43.76" y="921.46" font-size="10.76" text-anchor="end" fill="#1a1a1a" stroke="#1a1a1a" stroke-width="0.08" textLength="13.11" lengthAdjust="spacingAndGlyphs">10</text>
<line x1="49.90" y1="886.19" x2="52.10" y2="886.19" stroke="#7f7f7f" stroke-width="0.8"/>
<text x="49.40" y="886.39" font-size="8.65" text-anchor="end" fill="#1a1a1a" textLength="5.24" lengthAdjust="spacingAndGlyphs">3</text>
<text x="43.76" y="890.29" font-size="10.76" text-anchor="end" fill="#1a1a1a" stroke="#1a1a1a" stroke-width="0.08" textLength="13.11" lengthAdjust="spacingAndGlyphs">10</text>
<line x1="49.90" y1="855.02" x2="52.10" y2="855.02" stroke="#7f7f7f" stroke-width="0.8"/>
<text x="49.40" y="855.22" font-size="8.65" text-anchor="end" fill="#1a1a1a" textLength="5.24" lengthAdjust="spacingAndGlyphs">4</text>
<text x="43.76" y="859.12" font-size="10.76" text-anchor="end" fill="#1a1a1a" stroke="#1a1a1a" stroke-width="0.08" textLength="13.11" lengthAdjust="spacingAndGlyphs">10</text>
<text x="203.35" y="845.10" font-size="12.07" text-anchor="middle" fill="#1a1a1a" stroke="#1a1a1a" stroke-width="0.08" textLength="119.52" lengthAdjust="spacingAndGlyphs">Predicted probability</text>
<text x="533.00" y="845.10" font-size="12.07" text-anchor="middle" fill="#1a1a1a" stroke="#1a1a1a" stroke-width="0.08" textLength="119.52" lengthAdjust="spacingAndGlyphs">Predicted probability</text>
<text x="368.15" y="1011.00" font-size="13.31" text-anchor="middle" fill="#1a1a1a" stroke="#1a1a1a" stroke-width="0.08" textLength="131.83" lengthAdjust="spacingAndGlyphs">Predicted probability</text>
<text x="26.40" y="670.35" font-size="13.41" text-anchor="middle" fill="#1a1a1a" stroke="#1a1a1a" stroke-width="0.08" textLength="132.64" lengthAdjust="spacingAndGlyphs" transform="rotate(-90 26.40 670.35)">Observed proportion</text>
<text x="27.00" y="918.05" font-size="13.27" text-anchor="middle" fill="#1a1a1a" stroke="#1a1a1a" stroke-width="0.08" textLength="37.72" lengthAdjust="spacingAndGlyphs" transform="rotate(-90 27.00 918.05)">Count</text>
<rect x="57.10" y="524.20" width="168.20" height="89.70" rx="2.5" ry="2.5" fill="#ffffff" fill-opacity="0.8" stroke="#cccccc" stroke-width="0.9"/>
<line x1="60.30" y1="532.00" x2="80.60" y2="532.00" stroke="#111" stroke-width="1.45" stroke-dasharray="1.3 1.85"/>
<text x="88.50" y="535.90" font-size="10.16" text-anchor="start" fill="#1a1a1a" stroke="#1a1a1a" stroke-width="0.08" textLength="94.38" lengthAdjust="spacingAndGlyphs">Perfectly calibrated</text>
<line x1="60.30" y1="558.00" x2="80.60" y2="558.00" stroke="#ff7f0e" stroke-width="1" stroke-opacity="0.8"/>
<text x="88.50" y="550.40" font-size="10.16" text-anchor="start" fill="#1a1a1a" stroke="#1a1a1a" stroke-width="0.08" textLength="42.87" lengthAdjust="spacingAndGlyphs">Dynamic</text>
<text x="88.50" y="561.10" font-size="10.16" text-anchor="start" fill="#1a1a1a" stroke="#1a1a1a" stroke-width="0.08" textLength="132.65" lengthAdjust="spacingAndGlyphs">Intercept: 0.05 (-0.06;0.17)</text>
<text x="88.50" y="571.80" font-size="10.16" text-anchor="start" fill="#1a1a1a" stroke="#1a1a1a" stroke-width="0.08" textLength="106.02" lengthAdjust="spacingAndGlyphs">Slope: 0.8 (0.74;0.87)</text>
<line x1="60.30" y1="594.80" x2="80.60" y2="594.80" stroke="#8c564b" stroke-width="1" stroke-opacity="0.8"/>
<text x="88.50" y="586.60" font-size="10.16" text-anchor="start" fill="#1a1a1a" stroke="#1a1a1a" stroke-width="0.08" textLength="27.79" lengthAdjust="spacingAndGlyphs">Static</text>
<text x="88.50" y="597.30" font-size="10.16" text-anchor="start" fill="#1a1a1a" stroke="#1a1a1a" stroke-width="0.08" textLength="126.47" lengthAdjust="spacingAndGlyphs">Intercept: 0.09 (-0.02;0.2)</text>
<text x="88.50" y="608.00" font-size="10.16" text-anchor="start" fill="#1a1a1a" stroke="#1a1a1a" stroke-width="0.08" textLength="112.21" lengthAdjust="spacingAndGlyphs">Slope: 0.96 (0.88;1.05)</text>
<rect x="386.70" y="524.60" width="129.90" height="45.10" rx="2.5" ry="2.5" fill="#ffffff" fill-opacity="0.8" stroke="#cccccc" stroke-width="0.9"/>
<line x1="390.70" y1="532.10" x2="410.60" y2="532.10" stroke="#111" stroke-width="1.45" stroke-dasharray="1.3 1.85"/>
<text x="418.00" y="535.90" font-size="10.16" text-anchor="start" fill="#1a1a1a" stroke="#1a1a1a" stroke-width="0.08" textLength="94.38" lengthAdjust="spacingAndGlyphs">Perfectly calibrated</text>
<line x1="390.70" y1="546.30" x2="410.60" y2="546.30" stroke="#ff7f0e" stroke-width="1" stroke-opacity="0.8"/>
<text x="418.00" y="550.10" font-size="10.16" text-anchor="start" fill="#1a1a1a" stroke="#1a1a1a" stroke-width="0.08" textLength="92.37" lengthAdjust="spacingAndGlyphs">Dynamic (zoom-in)</text>
<line x1="390.70" y1="560.50" x2="410.60" y2="560.50" stroke="#8c564b" stroke-width="1" stroke-opacity="0.8"/>
<text x="418.00" y="564.30" font-size="10.16" text-anchor="start" fill="#1a1a1a" stroke="#1a1a1a" stroke-width="0.08" textLength="77.30" lengthAdjust="spacingAndGlyphs">Static (zoom-in)</text>
<rect x="198.50" y="854.30" width="338.80" height="30.90" rx="2.5" ry="2.5" fill="#ffffff" fill-opacity="0.8" stroke="#cccccc" stroke-width="0.9"/>
<rect x="202.40" y="858.70" width="19.6" height="6.6" fill="none" stroke="#ff7f0e" stroke-width="1.2"/>
<rect x="202.40" y="873.00" width="19.6" height="6.6" fill="none" stroke="#8c564b" stroke-width="1.2"/>
<text x="230.60" y="865.30" font-size="10.16" text-anchor="start" fill="#1a1a1a" stroke="#1a1a1a" stroke-width="0.08" textLength="301.86" lengthAdjust="spacingAndGlyphs">Dynamic: 97.3% of predictions within 0-0.2 range (grey area).</text>
<text x="230.60" y="879.60" font-size="10.16" text-anchor="start" fill="#1a1a1a" stroke="#1a1a1a" stroke-width="0.08" textLength="286.79" lengthAdjust="spacingAndGlyphs">Static: 98.2% of predictions within 0-0.2 range (grey area).</text>
<text x="0.2" y="529.9" font-size="17.4" font-weight="bold" fill="#0d0d0d" textLength="20.4" lengthAdjust="spacingAndGlyphs">(b)</text>
</svg></body></html>
